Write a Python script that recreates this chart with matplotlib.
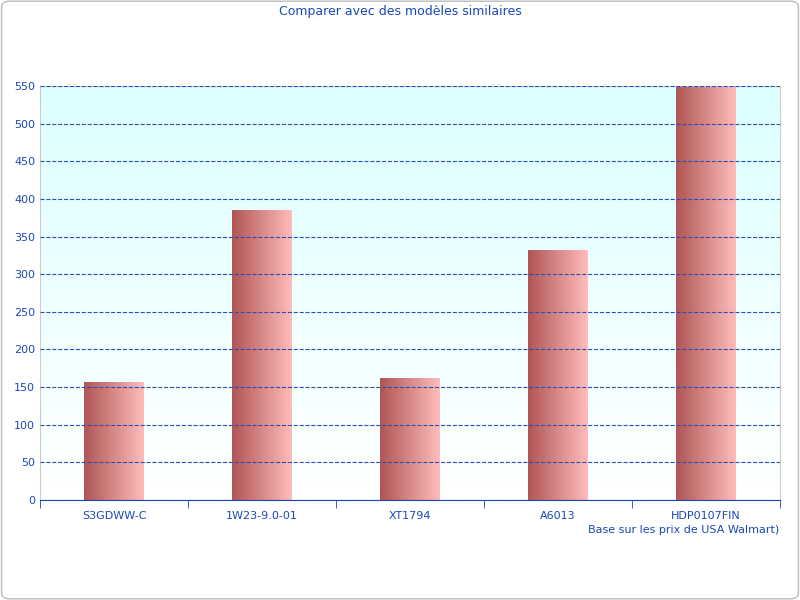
import matplotlib
matplotlib.use("Agg")
import matplotlib.pyplot as plt
import numpy as np
from matplotlib.colors import LinearSegmentedColormap
from matplotlib.patches import FancyBboxPatch

models = ["S3GDWW-C", "1W23-9.0-01", "XT1794", "A6013", "HDP0107FIN"]
prices = [156, 384, 161, 331, 549]
yticks = list(range(0, 551, 50))

blue = "#1a47b8"
fig = plt.figure(figsize=(8, 6), dpi=100)
ax = fig.add_axes([0.05, 1 - 500 / 600, 0.925, 414 / 600])

# bordure extérieure arrondie
fig.patches.append(FancyBboxPatch((0.002, 0.002), 0.996, 0.996, boxstyle="round,pad=0,rounding_size=0.01",
                                  transform=fig.transFigure, fill=False, edgecolor="#bbbbbb", linewidth=1))

# fond dégradé
bg = LinearSegmentedColormap.from_list("bg", ["#ffffff", "#dcffff"])
ax.imshow(np.linspace(0, 1, 256).reshape(-1, 1), cmap=bg, aspect="auto", origin="lower",
          extent=[-0.5, len(models) - 0.5, 0, 550], zorder=0)

bar_cmap = LinearSegmentedColormap.from_list("bar", ["#b05555", "#ffbcbc"])
grad = np.linspace(0, 1, 256).reshape(1, -1)
w = 0.4
for i, v in enumerate(prices):
    ax.imshow(grad, cmap=bar_cmap, aspect="auto", extent=[i - w / 2, i + w / 2, 0, v], zorder=2)

ax.set_xlim(-0.5, len(models) - 0.5)
ax.set_ylim(0, 550)
ax.set_yticks(yticks)
ax.yaxis.grid(True, linestyle="--", color="#2a4fb0", linewidth=0.8)
ax.set_axisbelow(False)
for l in ax.get_ygridlines():
    l.set_zorder(1)
ax.set_xticks(range(len(models)))
ax.set_xticklabels(models)
ax.set_xticks(np.arange(-0.5, len(models)), minor=True)
ax.tick_params(axis="x", which="major", length=0, pad=8, colors=blue, labelsize=8)
ax.tick_params(axis="x", which="minor", length=6, color=blue)
ax.tick_params(axis="y", length=0, colors=blue, labelsize=8)
for s in ["top", "right", "left"]:
    ax.spines[s].set_color("#cccccc")
ax.spines["bottom"].set_color(blue)

fig.text(0.5, 0.98, "Comparer avec des modèles similaires", ha="center", va="center", color=blue, fontsize=9)
fig.text(0.974, 1 - 530 / 600, "Base sur les prix de USA Walmart)", ha="right", va="center", color=blue, fontsize=8)

fig.savefig("out.png", dpi=100)
